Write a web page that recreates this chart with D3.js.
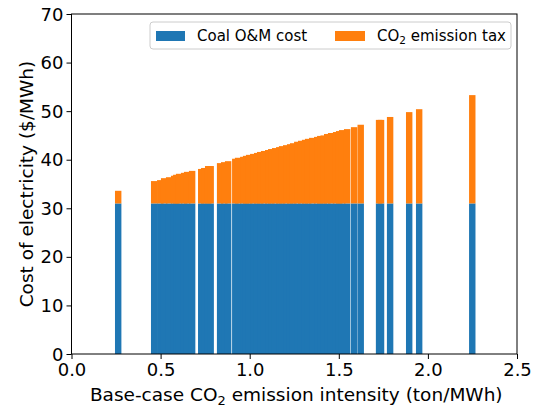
<!DOCTYPE html>
<html>
<head>
<meta charset="utf-8">
<script src="https://cdn.jsdelivr.net/npm/d3@7"></script>
<style>
  body { margin: 0; background: #fff; }
  svg { font-family: "DejaVu Sans", sans-serif; }
</style>
</head>
<body>
<div id="chart"></div>
<script>
// Base-case CO2 emission intensity of each plant (ton/MWh)
var intensity = [0.262,
  0.464, 0.498, 0.520, 0.548, 0.576, 0.588, 0.604, 0.632, 0.649, 0.677,
  0.728, 0.745, 0.767, 0.781,
  0.834, 0.857, 0.879,
  0.919, 0.935, 0.964, 0.980, 0.997, 1.020, 1.042, 1.059, 1.081, 1.104,
  1.121, 1.143, 1.166, 1.182, 1.205, 1.227, 1.244, 1.267, 1.289, 1.311,
  1.328, 1.351, 1.379, 1.396, 1.415, 1.435, 1.457, 1.485, 1.502, 1.519, 1.547,
  1.586, 1.623,
  1.726, 1.737, 1.788, 1.895, 1.951, 2.249];

// Coal O&M cost ($/MWh)
var coalOM = [31,
  31, 31, 31, 31, 31, 31, 31, 31, 31, 31,
  31, 31, 31, 31,
  31, 31, 31,
  31, 31, 31, 31, 31, 31, 31, 31, 31, 31,
  31, 31, 31, 31, 31, 31, 31, 31, 31, 31,
  31, 31, 31, 31, 31, 31, 31, 31, 31, 31, 31,
  31, 31,
  31, 31, 31, 31, 31, 31];

// CO2 emission tax ($/MWh)
var co2Tax = [2.6,
  4.6, 4.8, 5.2, 5.4, 5.7, 5.9, 6.1, 6.3, 6.5, 6.7,
  7.1, 7.3, 7.7, 7.7,
  8.3, 8.5, 8.7,
  9.2, 9.4, 9.6, 9.8, 10.0, 10.2, 10.4, 10.6, 10.8, 11.0,
  11.2, 11.4, 11.6, 11.8, 12.0, 12.2, 12.4, 12.7, 12.9, 13.1,
  13.3, 13.5, 13.7, 13.9, 14.0, 14.3, 14.5, 14.7, 14.9, 15.1, 15.3,
  15.7, 16.2,
  17.2, 17.2, 17.8, 18.8, 19.4, 22.3];

var xTicks = [0.0, 0.5, 1.0, 1.5, 2.0, 2.5];
var yTicks = [0, 10, 20, 30, 40, 50, 60, 70];
var barWidth = 0.036;

var width = 541, height = 411;
var margin = {top: 14, right: 24, bottom: 57, left: 71.5};

var svg = d3.select('#chart')
  .append('svg')
  .attr('width', width)
  .attr('height', height);

var x = d3.scaleLinear()
  .domain([0, 2.5])
  .range([margin.left, width - margin.right]);

var y = d3.scaleLinear()
  .domain([0, 70])
  .range([height - margin.bottom, margin.top]);

var rows = intensity.map(function(d, i){
  return {x: d, om: coalOM[i], tax: co2Tax[i]};
});

// O&M part
svg.append('g')
  .selectAll('rect')
  .data(rows)
  .enter()
  .append('rect')
  .attr('x', function(d){ return x(d.x - barWidth/2); })
  .attr('width', function(d){ return x(barWidth) - x(0); })
  .attr('y', function(d){ return y(d.om); })
  .attr('height', function(d){ return y(0) - y(d.om); })
  .attr('fill', '#1f77b4');

// tax part on top
svg.append('g')
  .selectAll('rect')
  .data(rows)
  .enter()
  .append('rect')
  .attr('x', function(d){ return x(d.x - barWidth/2); })
  .attr('width', function(d){ return x(barWidth) - x(0); })
  .attr('y', function(d){ return y(d.om + d.tax); })
  .attr('height', function(d){ return y(d.om) - y(d.om + d.tax); })
  .attr('fill', '#ff7f0e');

// axes
var xAxis = svg.append('g')
  .attr('transform', 'translate(0,' + (height - margin.bottom) + ')')
  .call(d3.axisBottom(x).tickValues(xTicks).tickFormat(d3.format('.1f')).tickSizeOuter(0).tickSize(5).tickPadding(4));

var yAxis = svg.append('g')
  .attr('transform', 'translate(' + margin.left + ',0)')
  .call(d3.axisLeft(y).tickValues(yTicks).tickSizeOuter(0).tickSize(5).tickPadding(3));

[xAxis, yAxis].forEach(function(a){
  a.select('.domain').remove();
  a.selectAll('text').attr('font-size', 18).attr('font-family', 'DejaVu Sans').attr('fill', '#000');
  a.selectAll('line').attr('stroke', '#000');
});
yAxis.selectAll('text').attr('dy', '0.34em');

// frame
svg.append('rect')
  .attr('x', margin.left)
  .attr('y', margin.top)
  .attr('width', width - margin.left - margin.right)
  .attr('height', height - margin.top - margin.bottom)
  .attr('fill', 'none')
  .attr('stroke', '#000')
  .attr('stroke-width', 1);

// axis labels
var xl = svg.append('text')
  .attr('x', (margin.left + width - margin.right) / 2 + 2)
  .attr('y', 401)
  .attr('text-anchor', 'middle')
  .attr('font-size', 18.5);
xl.append('tspan').text('Base-case CO');
xl.append('tspan').text('2').attr('font-size', 13).attr('dy', 4);
xl.append('tspan').text(' emission intensity (ton/MWh)').attr('dy', -4);

svg.append('text')
  .attr('transform', 'translate(33,' + ((margin.top + height - margin.bottom) / 2) + ') rotate(-90)')
  .attr('text-anchor', 'middle')
  .attr('font-size', 18.5)
  .text('Cost of electricity ($/MWh)');

// legend
var lg = svg.append('g');
lg.append('rect')
  .attr('x', 150).attr('y', 22)
  .attr('width', 361).attr('height', 27)
  .attr('rx', 3)
  .attr('fill', 'rgba(255,255,255,0.8)')
  .attr('stroke', '#cccccc');
lg.append('rect').attr('x', 156).attr('y', 31).attr('width', 29).attr('height', 10).attr('fill', '#1f77b4');
lg.append('text').attr('x', 197).attr('y', 41).attr('font-size', 15).text('Coal O&M cost');
lg.append('rect').attr('x', 335).attr('y', 31).attr('width', 30).attr('height', 10).attr('fill', '#ff7f0e');
var lt = lg.append('text').attr('x', 377).attr('y', 41).attr('font-size', 15);
lt.append('tspan').text('CO');
lt.append('tspan').text('2').attr('font-size', 10.5).attr('dy', 3);
lt.append('tspan').text(' emission tax').attr('dy', -3);
</script>
</body>
</html>
